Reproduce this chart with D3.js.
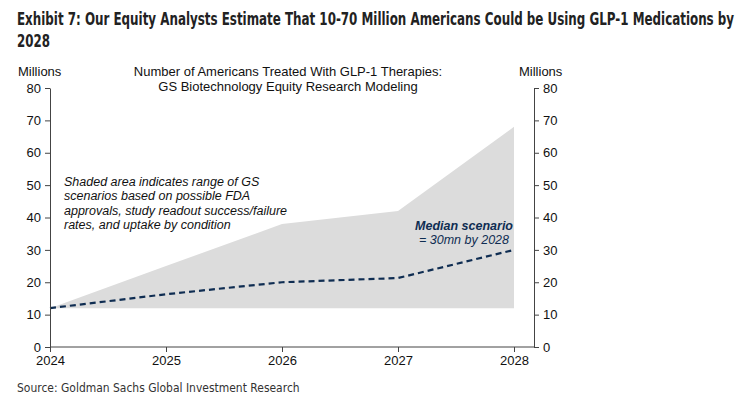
<!DOCTYPE html>
<html>
<head>
<meta charset="utf-8">
<script src="https://cdn.jsdelivr.net/npm/d3@7"></script>
<style>
  body { margin: 0; background: #fff; }
  text { font-family: "Liberation Sans", Arial, sans-serif; fill: #111; }
  .title { font-family: "DejaVu Sans", sans-serif; font-weight: bold; font-size: 17px; fill: #222; }
  .source { font-family: "DejaVu Sans", sans-serif; font-size: 13px; fill: #333; }
  .axis path, .axis line { stroke: #444; }
  .axis text { font-size: 13px; fill: #111; }
</style>
</head>
<body>
<div id="chart"></div>
<script>
const years = [2024, 2025, 2026, 2027, 2028];
const lowValues = [12, 12, 12, 12, 12];
const highValues = [12, 25, 38, 42, 68];
const medianValues = [12, 16.3, 20, 21.3, 30];
const yTicks = [0, 10, 20, 30, 40, 50, 60, 70, 80];
const noteLines = [
  "Shaded area indicates range of GS",
  "scenarios based on possible FDA",
  "approvals, study readout success/failure",
  "rates, and uptake by condition"
];

const W = 743, H = 398;

const svg = d3.select("#chart").append("svg")
  .attr("width", W).attr("height", H);

const x = d3.scaleLinear().domain([2024, 2028]).range([50, 514]);
const y = d3.scaleLinear().domain([0, 80]).range([347, 88]);

const data = years.map((yr, i) => ({
  year: yr, low: lowValues[i], high: highValues[i], median: medianValues[i]
}));

// squeeze a text horizontally to a target width (condensed look)
function fitWidth(sel, left, base, width) {
  const len = sel.node().getComputedTextLength();
  sel.attr("x", 0).attr("y", 0)
    .attr("transform", `translate(${left},${base}) scale(${width / len},1)`);
}

// Title
fitWidth(svg.append("text").attr("class", "title")
  .text("Exhibit 7: Our Equity Analysts Estimate That 10-70 Million Americans Could be Using GLP-1 Medications by"),
  17, 25, 718);
fitWidth(svg.append("text").attr("class", "title").text("2028"), 17, 47, 33);

// Shaded range
svg.append("path")
  .datum(data)
  .attr("fill", "#dcdcdc")
  .attr("d", d3.area().x(d => x(d.year)).y0(d => y(d.low)).y1(d => y(d.high)));

// Median line
svg.append("path")
  .datum(data)
  .attr("fill", "none")
  .attr("stroke", "#0f2d52")
  .attr("stroke-width", 2.2)
  .attr("stroke-dasharray", "6,4")
  .attr("d", d3.line().x(d => x(d.year)).y(d => y(d.median)));

// Left axis
svg.append("g").attr("class", "axis")
  .attr("transform", "translate(50,0)")
  .call(d3.axisLeft(y).tickValues(yTicks).tickSize(5).tickSizeOuter(0).tickPadding(4));

// Right axis
svg.append("g").attr("class", "axis")
  .attr("transform", "translate(534,0)")
  .call(d3.axisRight(y).tickValues(yTicks).tickSize(5).tickSizeOuter(0).tickPadding(4));

// Bottom axis
const xAxis = svg.append("g").attr("class", "axis")
  .attr("transform", "translate(0,347)")
  .call(d3.axisBottom(x).tickValues(years).tickFormat(d3.format("d")).tickSize(5).tickSizeOuter(0).tickPadding(4));
xAxis.select(".domain").attr("d", "M50,0H534");

// Axis unit labels
svg.append("text").attr("x", 18).attr("y", 76).attr("font-size", 13).text("Millions");
svg.append("text").attr("x", 519).attr("y", 76).attr("font-size", 13).text("Millions");

// Chart subtitle
const sub = svg.append("text").attr("text-anchor", "middle").attr("font-size", 13);
sub.append("tspan").attr("x", 288).attr("y", 76).text("Number of Americans Treated With GLP-1 Therapies:");
sub.append("tspan").attr("x", 288).attr("y", 91).text("GS Biotechnology Equity Research Modeling");

// Note
const note = svg.append("text").attr("font-size", 12.5).attr("font-style", "italic");
noteLines.forEach((t, i) => {
  note.append("tspan").attr("x", 64).attr("y", 186 + i * 14.3).text(t);
});

// Median label
svg.append("text").attr("x", 513).attr("y", 230).attr("text-anchor", "end")
  .attr("font-size", 12.5).attr("font-style", "italic").attr("font-weight", "bold")
  .style("fill", "#0f2d52").text("Median scenario");
svg.append("text").attr("x", 509).attr("y", 244).attr("text-anchor", "end")
  .attr("font-size", 12.5).attr("font-style", "italic")
  .style("fill", "#0f2d52").text("= 30mn by 2028");

// Source
fitWidth(svg.append("text").attr("class", "source")
  .text("Source: Goldman Sachs Global Investment Research"), 17, 392, 283);
</script>
</body>
</html>
